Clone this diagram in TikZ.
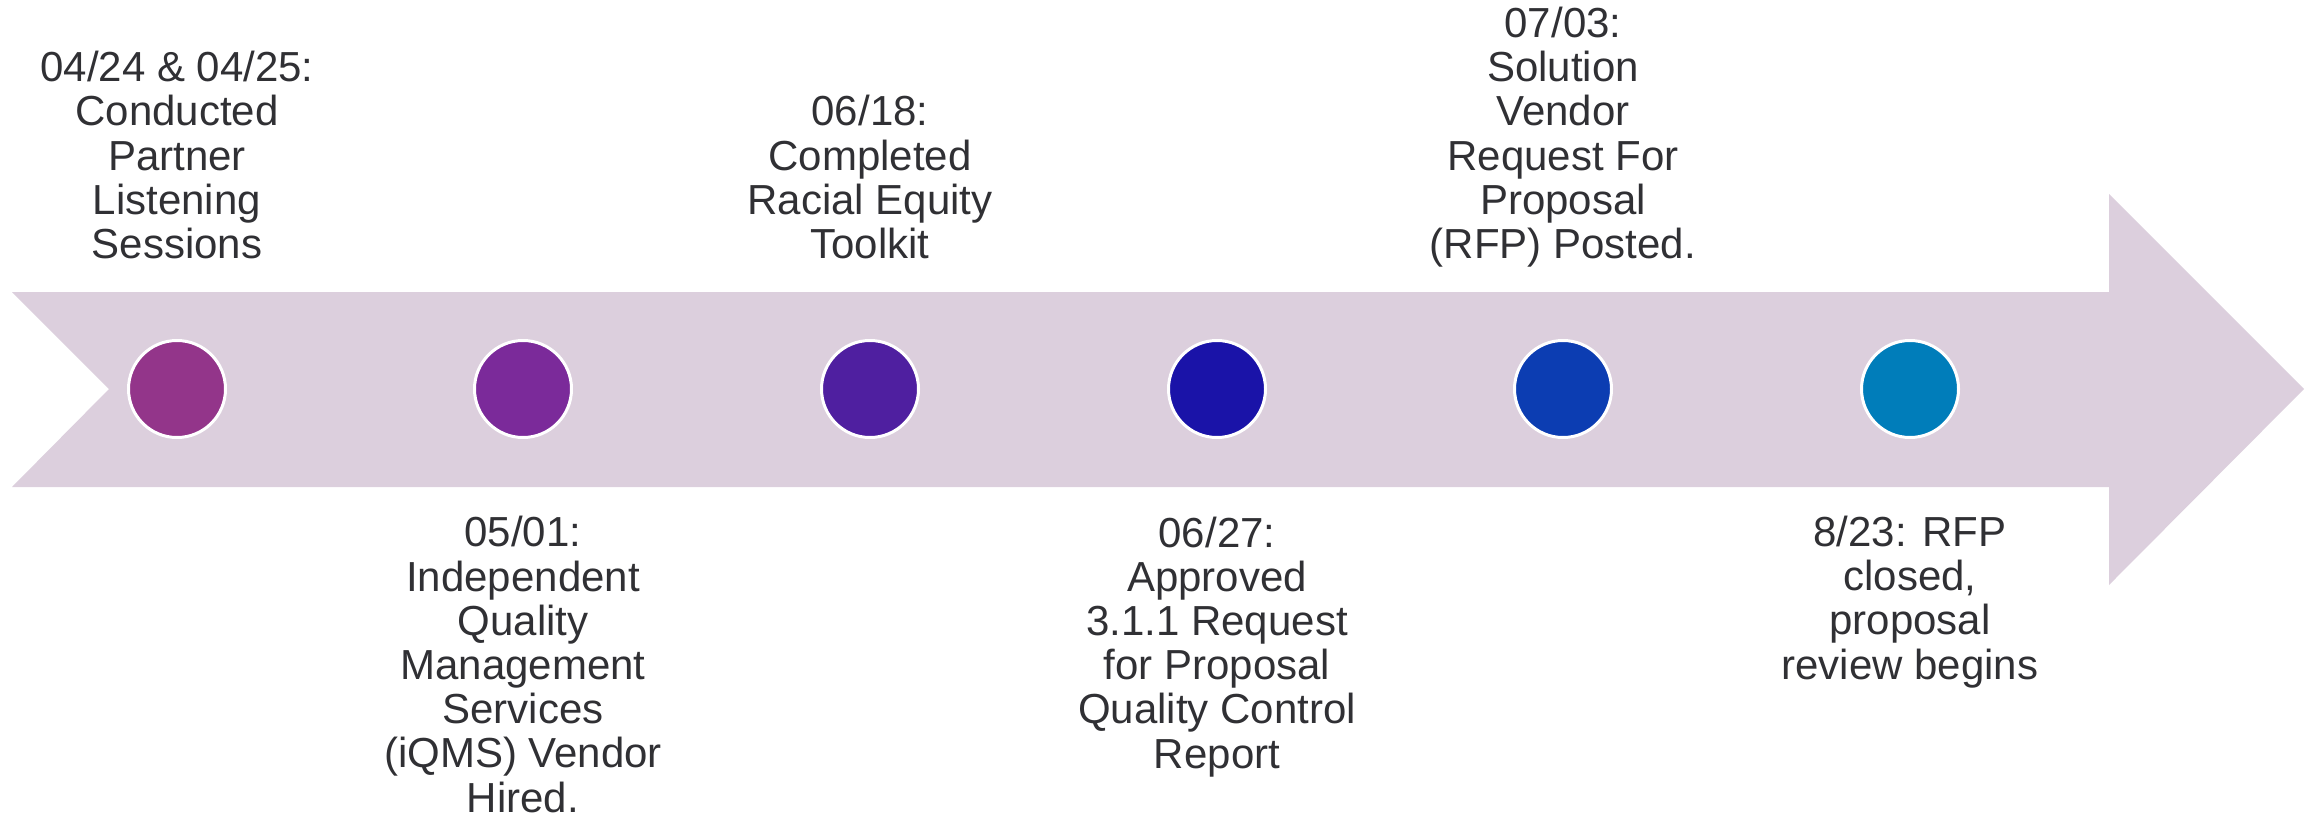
\documentclass[tikz,border=0pt]{standalone}
\usepackage{fontspec}
\setmainfont{Liberation Sans}
\definecolor{band}{HTML}{DCCFDD}
\definecolor{txt}{HTML}{303034}
\definecolor{cA}{HTML}{93358A}
\definecolor{cB}{HTML}{7B2A9A}
\definecolor{cC}{HTML}{4F1FA0}
\definecolor{cD}{HTML}{1A13A8}
\definecolor{cE}{HTML}{0C3DB2}
\definecolor{cF}{HTML}{007DBA}
\begin{document}
\begin{tikzpicture}[x=1pt,y=-1pt,
  dot/.style={circle,draw=white,line width=3pt,minimum size=97pt,inner sep=0pt},
  lbl/.style={align=center,inner sep=0pt,text=txt,anchor=base,font=\fontsize{42}{44.2}\selectfont}]
\useasboundingbox (0,0) rectangle (2310,814);
\fill[band] (12,292) -- (2109,292) -- (2109,194) -- (2304,389) -- (2109,585) -- (2109,487) -- (12,487) -- (109,389) -- cycle;
\node[dot,fill=cA] (d1) at (177,389) {};
\node[dot,fill=cB] (d2) at (523,389) {};
\node[dot,fill=cC] (d3) at (870,389) {};
\node[dot,fill=cD] (d4) at (1217,389) {};
\node[dot,fill=cE] (d5) at (1563,389) {};
\node[dot,fill=cF] (d6) at (1910,389) {};
\node[lbl] (t1) at (177,258.5) {04/24 \& 04/25:\\Conducted\\Partner\\Listening\\Sessions};
\node[lbl] (t3) at (870,258.5) {06/18:\\Completed\\Racial Equity\\Toolkit};
\node[lbl] (t5) at (1563,258.5) {07/03:\\Solution\\Vendor\\Request For\\Proposal\\(RFP) Posted.};
\node[lbl] (t2) at (523,812) {05/01:\\Independent\\Quality\\Management\\Services\\(iQMS) Vendor\\Hired.};
\node[lbl] (t4) at (1217,768) {06/27:\\Approved\\3.1.1 Request\\for Proposal\\Quality Control\\Report};
\node[lbl] (t6) at (1910,679) {8/23: RFP\\closed,\\proposal\\review begins};
\end{tikzpicture}
\end{document}
